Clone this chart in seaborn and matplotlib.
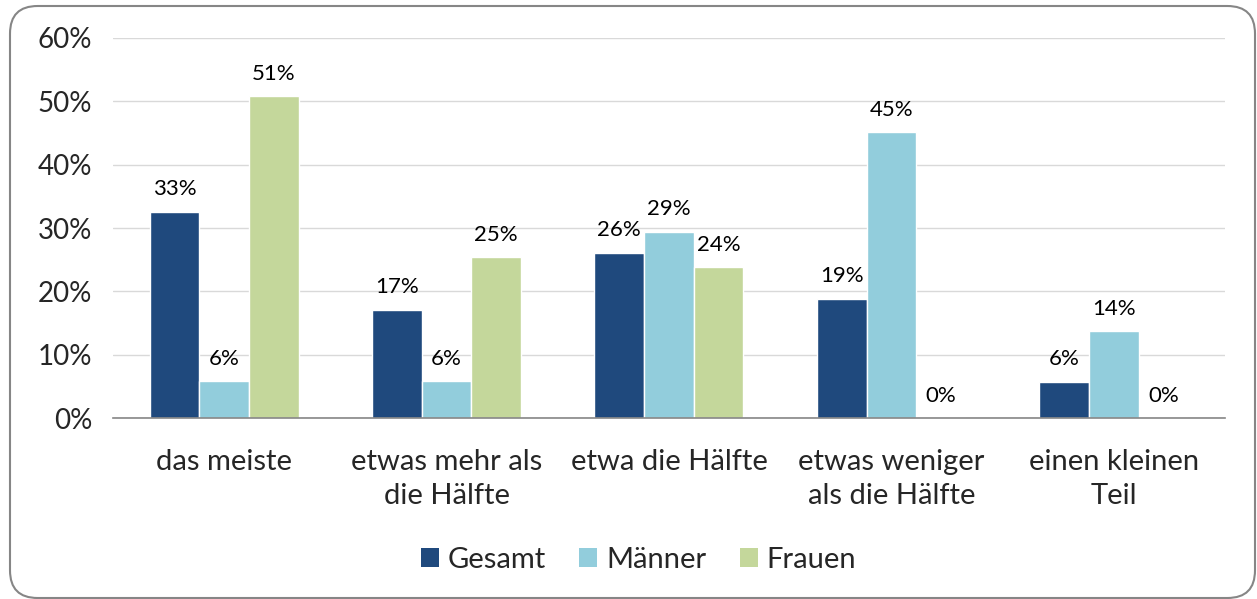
import matplotlib
matplotlib.use("Agg")
import matplotlib.pyplot as plt
import seaborn as sns
import pandas as pd
from matplotlib.patches import FancyBboxPatch, Patch
from matplotlib.ticker import FuncFormatter

categories = ["das meiste", "etwas mehr als\ndie Hälfte", "etwa die Hälfte",
              "etwas weniger\nals die Hälfte", "einen kleinen\nTeil"]
series = ["Gesamt", "Männer", "Frauen"]
gesamt = [32.6, 17.1, 26.1, 18.8, 5.7]
maenner = [5.8, 5.8, 29.4, 45.1, 13.7]
frauen = [50.8, 25.4, 23.8, 0.0, 0.0]
colors = ["#1F497D", "#92CDDC", "#C4D79B"]

rows = []
for name, vals in zip(series, [gesamt, maenner, frauen]):
    for c, v in zip(categories, vals):
        rows.append({"Kategorie": c, "Gruppe": name, "Wert": v})
df = pd.DataFrame(rows)

sns.set_theme(style="white")
plt.rcParams["font.family"] = ["Lato", "DejaVu Sans"]

fig = plt.figure(figsize=(12.57, 5.99), dpi=100)
ax = fig.add_axes([0.0899, 0.302, 0.8846, 0.6346])

sns.barplot(data=df, x="Kategorie", y="Wert", hue="Gruppe", order=categories,
            hue_order=series, palette=colors, width=0.67, saturation=1,
            ax=ax, legend=False)

for cont in ax.containers:
    labels = [f"{round(b.get_height()):.0f}%" for b in cont]
    ax.bar_label(cont, labels=labels, padding=9, fontsize=16, color="#000000")

ax.set_ylim(0, 60)
ax.set_yticks(range(0, 61, 10))
ax.yaxis.set_major_formatter(FuncFormatter(lambda v, p: f"{v:.0f}%"))
ax.grid(axis="y", color="#D9D9D9", linewidth=1)
ax.set_axisbelow(True)
for s in ["top", "right", "left"]:
    ax.spines[s].set_visible(False)
ax.spines["bottom"].set_color("#868686")
ax.spines["bottom"].set_linewidth(1.2)
ax.tick_params(axis="y", length=0, labelsize=20, pad=15)
ax.tick_params(axis="x", length=0, labelsize=21, pad=22)
ax.set_xlabel("")
ax.set_ylabel("")
for t in ax.get_xticklabels():
    t.set_linespacing(1.4)

handles = [Patch(facecolor=c, edgecolor="none") for c in colors]
fig.legend(handles, series, loc="center", bbox_to_anchor=(0.508, 1 - 560 / 599),
           bbox_transform=fig.transFigure, ncol=3, frameon=False, fontsize=21,
           handlelength=0.62, handleheight=0.62, handletextpad=0.3,
           columnspacing=1.15)

border = FancyBboxPatch((10 / 1257, 1 / 599), 1245 / 1257, 592 / 599,
                        boxstyle="round,pad=0,rounding_size=0.022",
                        transform=fig.transFigure, facecolor="none",
                        edgecolor="#868686", linewidth=1.5, mutation_aspect=1257 / 599)
fig.patches.append(border)

fig.savefig("out.png", dpi=100, facecolor="white")
